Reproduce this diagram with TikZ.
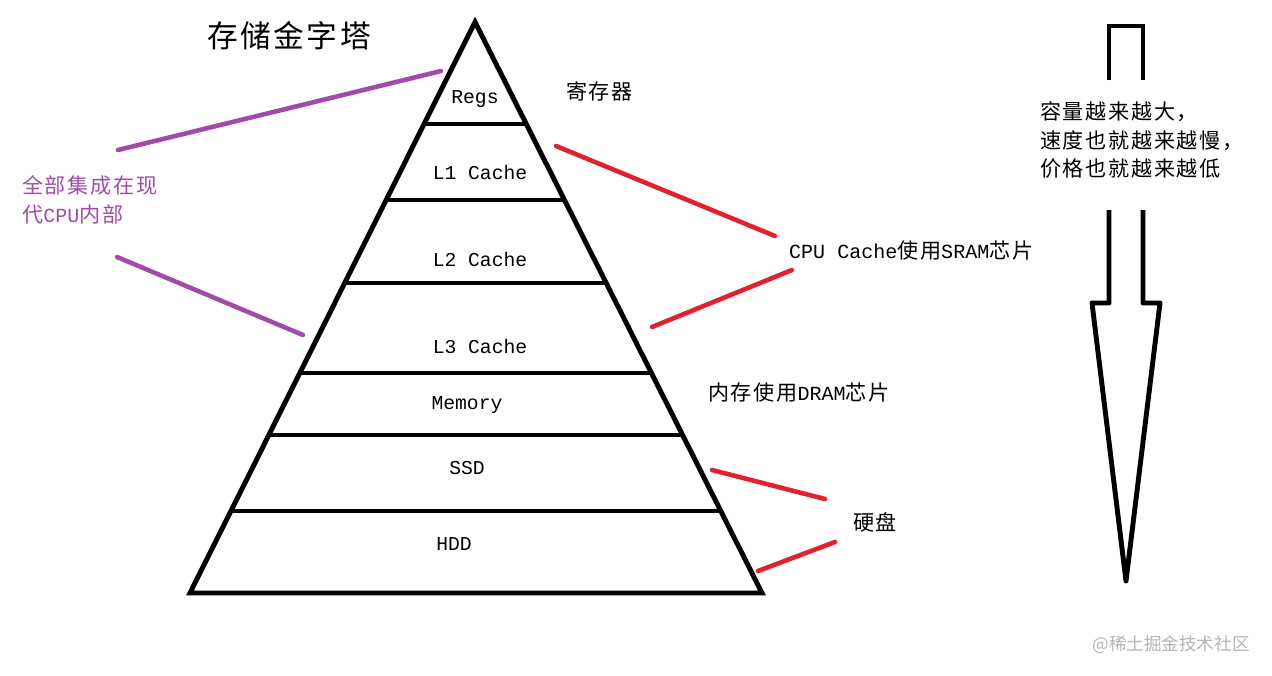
\documentclass[tikz,border=0pt]{standalone}
\usepackage{fontspec}
\setmainfont{Liberation Mono}
\newfontfamily\cjk[LetterSpace=8]{Noto Sans CJK SC}
\newfontfamily\cjkplain{Noto Sans CJK SC}
\usetikzlibrary{calc}
\definecolor{pyrink}{HTML}{000000}
\definecolor{cpupurple}{HTML}{A24AA8}
\definecolor{chipred}{HTML}{E2202E}
\definecolor{markgray}{HTML}{B4B4B4}

\begin{document}
\begin{tikzpicture}[x=0.02cm,y=-0.02cm,
    layer/.style={font=\fontsize{11.2}{13}\selectfont},
    note/.style={anchor=west,font=\fontsize{11.4}{13}\selectfont},
    cpuline/.style={draw=cpupurple,line width=2.6pt,line cap=round},
    chipline/.style={draw=chipred,line width=2.6pt,line cap=round}]
  \useasboundingbox (0,0) rectangle (1272,676);

  % pyramid and its layers
  \coordinate (apex) at (475,22);
  \coordinate (bl) at (190,593);
  \coordinate (br) at (762,593);
  \draw[pyrink,line width=2.8pt,line join=miter] (apex) -- (br) -- (bl) -- cycle;
  \foreach \t in {0.1786,0.3117,0.4571,0.6147,0.7233,0.8564}
    \draw[pyrink,line width=2.8pt] ($(apex)!\t!(bl)$) -- ($(apex)!\t!(br)$);

  \node[layer] (regs) at (475,99) {Regs};
  \node[layer] (lone) at (480,172) {L1 Cache};
  \node[layer] (ltwo) at (480,259) {L2 Cache};
  \node[layer] (lthree) at (480,346) {L3 Cache};
  \node[layer] (mem) at (467,405) {Memory};
  \node[layer] (ssd) at (467,468) {SSD};
  \node[layer] (hdd) at (454,544) {HDD};

  \node[font=\cjk\fontsize{17.5}{20}\selectfont] (title) at (289,36) {存储金字塔};
  \node[note,font=\cjk\fontsize{12}{13}\selectfont] (regtxt) at (560,91) {寄存器};

  % purple: on the CPU
  \node[note,align=left,text=cpupurple,font=\fontsize{11.4}{16.5}\selectfont] (cputxt) at (16,200)
    {{\cjk\fontsize{12}{16.5}\selectfont 全部集成在现}\\{\cjk\fontsize{12}{16.5}\selectfont 代}CPU{\cjk\fontsize{12}{16.5}\selectfont 内部}};
  \coordinate (cpuA) at (118,150);
  \coordinate (cpuB) at (441,71);
  \coordinate (cpuC) at (117,257);
  \coordinate (cpuD) at (303,335);
  \draw[cpuline] (cpuA) -- (cpuB);
  \draw[cpuline] (cpuC) -- (cpuD);

  % red: chip types
  \node[note] (sram) at (783,251) {CPU Cache{\cjk\fontsize{12}{13}\selectfont 使用}SRAM{\cjk\fontsize{12}{13}\selectfont 芯片}};
  \node[note] (dram) at (702,393) {{\cjk\fontsize{12}{13}\selectfont 内存使用}DRAM{\cjk\fontsize{12}{13}\selectfont 芯片}};
  \node[note,font=\cjk\fontsize{12}{13}\selectfont] (disk) at (847,522) {硬盘};
  \coordinate (sramA) at (556,146);
  \coordinate (sramB) at (775,236);
  \coordinate (sramC) at (652,327);
  \coordinate (sramD) at (792,270);
  \coordinate (diskA) at (712,470);
  \coordinate (diskB) at (825,499);
  \coordinate (diskC) at (758,571);
  \coordinate (diskD) at (835,542);
  \draw[chipline] (sramA) -- (sramB);
  \draw[chipline] (sramC) -- (sramD);
  \draw[chipline] (diskA) -- (diskB);
  \draw[chipline] (diskC) -- (diskD);

  % big arrow on the right
  \draw[pyrink,line width=2.8pt,line join=miter] (1109,80) -- (1109,26) -- (1143,26) -- (1143,80);
  \draw[pyrink,line width=2.8pt,line join=round] (1109,210) -- (1109,303) -- (1092,303)
    -- (1126,581) -- (1160,303) -- (1143,303) -- (1143,210);
  \node[note,align=left,font=\cjk\fontsize{12}{16}\selectfont] (trend) at (1034,140)
    {容量越来越大，\\速度也就越来越慢，\\价格也就越来越低};

  \node[font=\cjkplain\fontsize{10}{12}\selectfont,text=markgray] (mark) at (1171,645) {@稀土掘金技术社区};
\end{tikzpicture}
\end{document}
